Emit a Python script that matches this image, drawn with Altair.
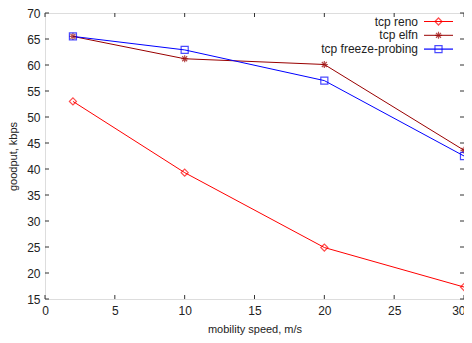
import altair as alt
import pandas as pd

speeds = [2, 10, 20, 30]
reno = [53.0, 39.3, 24.9, 17.3]
elfn = [65.5, 61.2, 60.1, 43.6]
freeze = [65.5, 62.9, 57.0, 42.5]
series_names = ["tcp reno", "tcp elfn", "tcp freeze-probing"]
colors = ["#ff0000", "#990000", "#0000ff"]
x_ticks = [0, 5, 10, 15, 20, 25, 30]
y_ticks = [15, 20, 25, 30, 35, 40, 45, 50, 55, 60, 65, 70]

asterisk = "M-1,0L1,0M0,-1L0,1M-0.7,-0.7L0.7,0.7M-0.7,0.7L0.7,-0.7"
shapes = ["diamond", asterisk, "square"]

rows = []
for name, vals in zip(series_names, [reno, elfn, freeze]):
    for s, v in zip(speeds, vals):
        rows.append({"series": name, "speed": s, "goodput": v})
df = pd.DataFrame(rows)

W, H = 419, 286
FONT = "Liberation Sans"

xs = alt.Scale(domain=[0, 30], nice=False, zero=False)
ys = alt.Scale(domain=[15, 70], nice=False, zero=False)
cs = alt.Scale(domain=series_names, range=colors)
ss = alt.Scale(domain=series_names, range=shapes)

xa = alt.Axis(values=x_ticks, title="mobility speed, m/s", ticks=False, domain=False,
              grid=False, labelPadding=6, titlePadding=7, labelFontSize=12,
              titleFontSize=11, titleFontWeight="normal", labelFont=FONT, titleFont=FONT,
              labelColor="#222", titleColor="#222", labelOverlap=False, labelFlush=False,
              labelAlign=alt.expr("datum.value == 30 ? 'right' : 'center'"),
              labelOffset=alt.expr("datum.value == 30 ? 1 : 0"))
ya = alt.Axis(values=y_ticks, title="goodput, kbps", ticks=False, domain=False,
              grid=False, labelPadding=5, titlePadding=8, labelFontSize=12,
              titleFontSize=11, titleFontWeight="normal", labelFont=FONT, titleFont=FONT,
              labelColor="#222", titleColor="#222", labelOverlap=False, labelFlush=False)

base = alt.Chart(df)
lines = base.mark_line(strokeWidth=1).encode(
    x=alt.X("speed:Q", scale=xs, axis=xa),
    y=alt.Y("goodput:Q", scale=ys, axis=ya),
    color=alt.Color("series:N", scale=cs, legend=None),
)
points = base.mark_point(filled=False, size=50, strokeWidth=1.2).encode(
    x=alt.X("speed:Q", scale=xs, axis=xa),
    y=alt.Y("goodput:Q", scale=ys, axis=ya),
    color=alt.Color("series:N", scale=cs, legend=None),
    shape=alt.Shape("series:N", scale=ss, legend=None),
)

xt = pd.DataFrame({"speed": x_ticks})
yt = pd.DataFrame({"goodput": y_ticks})
tick_col = "#333"
tb = alt.Chart(xt).mark_rule(color=tick_col, strokeWidth=1).encode(
    x=alt.X("speed:Q", scale=xs, axis=xa), y=alt.value(H), y2=alt.value(H - 4))
tt = alt.Chart(xt).mark_rule(color=tick_col, strokeWidth=1).encode(
    x=alt.X("speed:Q", scale=xs, axis=xa), y=alt.value(0), y2=alt.value(4))
tl = alt.Chart(yt).mark_rule(color=tick_col, strokeWidth=1).encode(
    y=alt.Y("goodput:Q", scale=ys, axis=ya), x=alt.value(0), x2=alt.value(4))
tr = alt.Chart(yt).mark_rule(color=tick_col, strokeWidth=1).encode(
    y=alt.Y("goodput:Q", scale=ys, axis=ya), x=alt.value(W), x2=alt.value(W - 4))

legend_layers = []
for i, (name, col, shp) in enumerate(zip(series_names, colors, shapes)):
    ly = 8.5 + i * 13.8
    ld = pd.DataFrame({"series": [name]})
    legend_layers.append(alt.Chart(ld).mark_text(align="right", baseline="middle", fontSize=12,
                                                 font=FONT, color="#222").encode(
        text="series:N", x=alt.value(373), y=alt.value(ly)))
    legend_layers.append(alt.Chart(ld).mark_rule(color=col, strokeWidth=1.2 if i == 2 else 1).encode(
        x=alt.value(379), x2=alt.value(408), y=alt.value(ly)))
    legend_layers.append(alt.Chart(ld).mark_point(filled=False, size=50, strokeWidth=1.2, color=col,
                                                  shape=shp).encode(
        x=alt.value(393.5), y=alt.value(ly)))

chart = alt.layer(lines, points, tb, tt, tl, tr, *legend_layers).properties(
    width=W, height=H,
    autosize=alt.AutoSizeParams(type="none"),
    padding={"left": 37, "top": 5, "right": 0, "bottom": 36},
).configure_view(stroke="#333", strokeWidth=1).configure(background="white")

chart.save("out.html", embed_options={"renderer": "svg", "actions": False})
